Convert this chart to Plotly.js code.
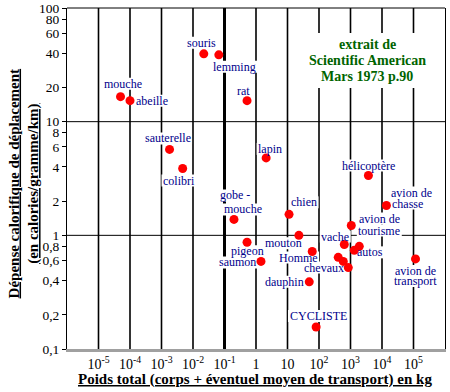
<!DOCTYPE html>
<html><head><meta charset="utf-8">
<script src="https://cdn.plot.ly/plotly-3.0.1.min.js"></script>
<style>html,body{margin:0;padding:0;background:#fff}</style>
</head><body><div id="chart" style="width:450px;height:392px"></div>
<script>
// ---- data ----
const animals = ['mouche','abeille','souris','lemming','rat','sauterelle','colibri','lapin','hélicoptère','avion de chasse','chien','gobe-mouche','avion de tourisme','mouton','pigeon','vache','autos','autos','Homme','saumon','chevaux','chevaux','chevaux','avion de transport','dauphin','CYCLISTE'];
const massKg = [5e-5,1e-4,0.022,0.066,0.52,0.0018,0.0047,2.1,3700,13800,11.2,0.2,1060,23,0.52,635,1900,1320,61,1.44,408,590,850,116000,49,81];
const costCal = [16.6,15.3,39.5,38.7,15.3,5.7,3.87,4.8,3.36,1.83,1.53,1.38,1.22,1.0,0.87,0.83,0.80,0.74,0.72,0.59,0.64,0.59,0.52,0.62,0.39,0.156];
const xTickVals = [1e-5,1e-4,1e-3,1e-2,1e-1,1,10,1e2,1e3,1e4,1e5];
const xTickText = ['10<sup>-5</sup>','10<sup>-4</sup>','10<sup>-3</sup>','10<sup>-2</sup>','10<sup>-1</sup>','1','10','10<sup>2</sup>','10<sup>3</sup>','10<sup>4</sup>','10<sup>5</sup>'];
const yTickVals = [0.1,0.2,0.4,0.6,0.8,1,2,4,6,8,10,20,40,60,80,100];
const yTickText = ['0,1','0,2','0,4','0,6','0,8','1','2','4','6','8','10','20','40','60','80','100'];
const refLinesY = [1,10];
const thickLineX = 0.1;
const sourceLines = ['extrait de','Scientific American','Mars 1973 p.90'];
const yTitleLines = ['Dépense calorifique de déplacement','(en calories/gramme/km)'];
const xTitle = 'Poids total (corps + éventuel moyen de transport) en kg';

// ---- label placement (point index, text, dx, dy in px; dy down) ----
const labelPlace = [
  [0,'mouche',2,-13],[1,'abeille',22,0],[2,'souris',-2,-11],[3,'lemming',16,12],
  [4,'rat',-4,-10],[5,'sauterelle',-2,-11],[6,'colibri',-4,12],[7,'lapin',4,-9],
  [8,'hélicoptère',0,-10],[9,'avion de',25,-13],[9,'chasse',21,-2],[10,'chien',15,-12],
  [11,'gobe -',1,-24],[11,'mouche',9,-10],[12,'avion de',28,-7],[12,'tourisme',28,5],
  [13,'mouton',-15,8],[14,'pigeon',0,9],[15,'vache',-9,-8],[16,'autos',11,6],
  [18,'Homme',-14,6],[19,'saumon',-23,1],[22,'chevaux',-24,0],
  [23,'avion de',0,12],[23,'transport',0,22],[24,'dauphin',-25,0],[25,'CYCLISTE',2,-11]
];

const serif = '"Liberation Serif", "Times New Roman", serif';
const labelSize = 12;
const navy = '#00008b';
const green = '#006400';
const X_RANGE = [-6, 6], Y_RANGE = [-1, 2];
const M = {l:67, r:5, t:8, b:43};
const W = 450, H = 392;
const pxPerDecX = (W - M.l - M.r) / (X_RANGE[1] - X_RANGE[0]);
const pxPerDecY = (H - M.t - M.b) / (Y_RANGE[1] - Y_RANGE[0]);

const cv = document.createElement('canvas').getContext('2d');
cv.font = labelSize + 'px "Liberation Serif"';

const shapes = [];
// grid lines as shapes (below traces)
xTickVals.forEach(v => shapes.push({type:'line', layer:'below', xref:'x', yref:'paper', x0:v, x1:v, y0:0, y1:1,
  line:{color:'#000', width: v === thickLineX ? 3 : 1.6}}));
refLinesY.forEach(v => shapes.push({type:'line', layer:'below', xref:'paper', yref:'y', x0:0, x1:1, y0:v, y1:v, line:{color:'#000', width:1}}));

const annotations = [];
labelPlace.forEach(([i, t, dx, dy]) => {
  const w = cv.measureText(t).width;
  const fx = p => massKg[i] * Math.pow(10, p / pxPerDecX);
  const fy = p => costCal[i] * Math.pow(10, p / pxPerDecY);
  shapes.push({type:'rect', layer:'below', xref:'x', yref:'y',
    x0: fx(dx - w/2 - 1.5), x1: fx(dx + w/2 + 1.5), y0: fy(-dy - 6), y1: fy(-dy + 6),
    fillcolor:'#fff', line:{width:0}});
  annotations.push({xref:'x', yref:'y', x: Math.log10(massKg[i]), y: Math.log10(costCal[i]), xshift: dx, yshift: -dy,
    text: t, showarrow:false, xanchor:'center', yanchor:'middle', font:{family:serif, size:labelSize, color:navy}});
});
// source box
shapes.push({type:'rect', layer:'below', xref:'paper', yref:'paper', x0:(300-67)/378, x1:(430-67)/378, y0:(349-88)/341, y1:(349-33)/341, fillcolor:'#fff', line:{width:0}});
const srcY = [44, 60.5, 76];
sourceLines.forEach((t, k) => annotations.push({xref:'paper', yref:'paper', x:(367-67)/378, y:(349-srcY[k])/341,
  text:'<b>'+t+'</b>', showarrow:false, xanchor:'center', yanchor:'middle', font:{family:serif, size:14, color:green}}));
// top border
shapes.push({type:'line', layer:'above', xref:'paper', yref:'paper', x0:0, x1:1, y0:1, y1:1, line:{color:'#000', width:1}});
// titles
annotations.push({xref:'paper', yref:'paper', x:0, y:0.484, xshift:-42.5, textangle:-90, showarrow:false, xanchor:'center', yanchor:'middle',
  text: yTitleLines.map(s => '<b><u>'+s+'</u></b>').join('<br>'), font:{family:serif, size:15, color:'#000'}});
annotations.push({xref:'paper', yref:'paper', x:(255-67)/378, y:0, yshift:-30, showarrow:false, xanchor:'center', yanchor:'middle',
  text:'<b><u>'+xTitle+'</u></b>', font:{family:serif, size:15, color:'#000'}});

const trace = {type:'scatter', mode:'markers', x: massKg, y: costCal, text: animals,
  marker:{color:'#ff0000', size:9, line:{width:0}}, hoverinfo:'text'};

const layout = {
  width:W, height:H, margin:M,
  paper_bgcolor:'#fff', plot_bgcolor:'#fff', showlegend:false,
  xaxis:{type:'log', range:X_RANGE, tickvals:xTickVals, ticktext:xTickText, ticks:'',
    showgrid:false, zeroline:false,
    showline:true, linecolor:'#a0a0a0', linewidth:3, tickfont:{family:serif, size:14, color:'#000'}},
  yaxis:{type:'log', range:Y_RANGE, tickvals:yTickVals, ticktext:yTickText, ticks:'outside', ticklen:4, tickwidth:1, tickcolor:'#000',
    showgrid:false, zeroline:false, showline:true, linecolor:'#000', linewidth:1, mirror:true,
    tickfont:{family:serif, size:13.5, color:'#000'}},
  shapes, annotations
};
Plotly.newPlot('chart', [trace], layout, {displayModeBar:false, staticPlot:true});
</script></body></html>
